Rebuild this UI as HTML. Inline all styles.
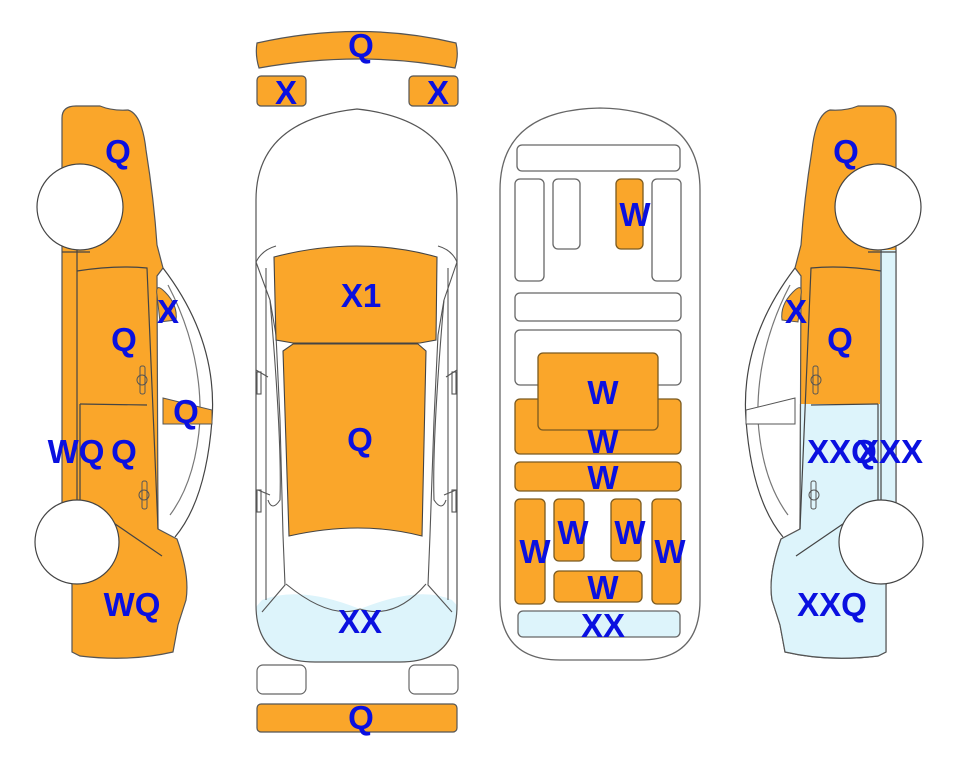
<!DOCTYPE html>
<html><head><meta charset="utf-8"><style>
html,body{margin:0;padding:0;background:#fff;width:963px;height:768px;overflow:hidden}
text{font-family:"Liberation Sans",sans-serif;font-weight:bold;font-size:33px;fill:#0a10e0;text-anchor:middle}
</style></head><body>
<svg width="963" height="768" viewBox="0 0 963 768" xmlns="http://www.w3.org/2000/svg">
<defs>
<path id="body" d="M62,118 Q62,106 76,106 L100,106 Q112,111 128,110 Q142,114 146,150 Q154,200 157,245 L163,268 L157,276 L158,529 L177,539 Q190,575 186,600 L178,625 L173,652 Q130,662 80,656 L72,652 L72,585 L62,505 Z"/>
<path id="mcar" d="M256,200 Q256,120 357,109 Q457,120 457,200 L457,605 Q457,662 400,662 L315,662 Q256,662 256,605 Z"/>
<clipPath id="mclip"><use href="#mcar"/></clipPath>
<g id="carlines" fill="none" stroke="#444" stroke-width="1.2">
<path d="M163,268 Q218,340 212,420 Q206,500 175,537"/>
<path d="M168,285 Q202,350 200,420 Q196,480 170,515" stroke="#777"/>
<path d="M77,271 Q115,265 147,268 L158,529"/>
<path d="M77,250 L77,505"/>
<path d="M80,404 L147,405"/>
<path d="M80,404 L80,500 L162,556"/>
<path d="M92,503 L92,540"/>
<path d="M62,505 L92,505"/>
<path d="M62,252 L90,252"/>
</g>
<clipPath id="bcm"><rect x="0" y="404" width="963" height="400"/><rect x="58" y="250" width="20" height="300"/></clipPath>
</defs>

<!-- LEFT CAR -->
<use href="#body" fill="#FAA62A" stroke="#555" stroke-width="1.2"/>
<use href="#carlines"/>
<path d="M157,295 Q155,282 165,292 Q178,305 176,320 L160,322 Z" fill="#FAA62A" stroke="#555"/>
<path d="M163,398 L212,410 L212,424 L163,424 Z" fill="#FAA62A" stroke="#555"/>
<g fill="none" stroke="#555"><rect x="140" y="366" width="5" height="28" rx="2"/><circle cx="142" cy="380" r="5"/><rect x="142" y="481" width="5" height="28" rx="2"/><circle cx="144" cy="495" r="5"/></g>
<circle cx="80" cy="207" r="43" fill="#fff" stroke="#444" stroke-width="1.2"/>
<circle cx="77" cy="542" r="42" fill="#fff" stroke="#444" stroke-width="1.2"/>

<!-- RIGHT CAR (mirrored) -->
<g transform="translate(958,0) scale(-1,1)">
<use href="#body" fill="#FAA62A" stroke="#555" stroke-width="1.2"/>
<use href="#body" fill="#DDF4FB" stroke="#555" stroke-width="1.2" clip-path="url(#bcm)"/>
<use href="#carlines"/>
<path d="M157,295 Q155,282 165,292 Q178,305 176,320 L160,322 Z" fill="#FAA62A" stroke="#555"/>
<path d="M163,398 L212,410 L212,424 L163,424 Z" fill="#fff" stroke="#555"/>
<g fill="none" stroke="#555"><rect x="140" y="366" width="5" height="28" rx="2"/><circle cx="142" cy="380" r="5"/><rect x="142" y="481" width="5" height="28" rx="2"/><circle cx="144" cy="495" r="5"/></g>
<circle cx="80" cy="207" r="43" fill="#fff" stroke="#444" stroke-width="1.2"/>
<circle cx="77" cy="542" r="42" fill="#fff" stroke="#444" stroke-width="1.2"/>
</g>

<!-- MIDDLE TOP VIEW -->
<path d="M257,43 Q360,20 456,43 Q459,55 455,68 Q360,50 259,68 Q255,55 257,43 Z" fill="#FAA62A" stroke="#555" stroke-width="1.2"/>
<rect x="257" y="76" width="49" height="30" rx="4" fill="#FAA62A" stroke="#555" stroke-width="1.2"/>
<rect x="409" y="76" width="49" height="30" rx="4" fill="#FAA62A" stroke="#555" stroke-width="1.2"/>
<rect x="257" y="665" width="49" height="29" rx="6" fill="#fff" stroke="#666" stroke-width="1.2"/>
<rect x="409" y="665" width="49" height="29" rx="6" fill="#fff" stroke="#666" stroke-width="1.2"/>
<rect x="257" y="704" width="200" height="28" rx="4" fill="#FAA62A" stroke="#555" stroke-width="1.2"/>

<use href="#mcar" fill="#fff"/>
<g clip-path="url(#mclip)">
<path d="M250,614 L262,600 Q300,585 360,609 Q420,585 452,600 L465,614 L465,680 L250,680 Z" fill="#DDF4FB"/>
</g>
<use href="#mcar" fill="none" stroke="#555" stroke-width="1.2"/>
<g fill="none" stroke="#555" stroke-width="1.1">
<path d="M256,262 Q262,250 276,246 M457,262 Q452,250 438,246"/>
<path d="M256,262 L270,300 L276,335 L280,420 L283,535 L285,585 L262,612"/>
<path d="M457,262 L444,300 L438,335 L434,420 L430,535 L428,585 L452,612"/>
<path d="M266,268 L266,600 M448,268 L448,600"/>
<path d="M270,300 Q282,440 280,500 Q272,512 268,500 M444,300 Q432,440 434,500 Q442,512 446,500"/>
<path d="M286,584 Q330,620 360,609 Q395,620 426,584"/>
<path d="M256,370 L268,377 M457,370 L446,377 M258,490 L270,495 M456,490 L444,495"/>
<rect x="257" y="372" width="4" height="22"/><rect x="452" y="372" width="4" height="22"/>
<rect x="257" y="490" width="4" height="22"/><rect x="452" y="490" width="4" height="22"/>
</g>
<path d="M274,257 Q358,235 437,257 L436,340 L420,343 L293,343 L276,340 Z" fill="#FAA62A" stroke="#444" stroke-width="1.1"/>
<path d="M283,351 L293,344 L418,344 L426,351 L422,536 Q360,520 289,536 Z" fill="#FAA62A" stroke="#444" stroke-width="1.1"/>

<!-- RIGHT STRUCTURE -->
<path d="M500,190 Q500,110 600,108 Q700,110 700,190 L700,600 Q700,660 640,660 L560,660 Q500,660 500,600 Z" fill="#fff" stroke="#666" stroke-width="1.3"/>
<g stroke="#666" stroke-width="1.3" fill="#fff">
<rect x="517" y="145" width="163" height="26" rx="5"/>
<rect x="515" y="179" width="29" height="102" rx="5"/>
<rect x="553" y="179" width="27" height="70" rx="5"/>
<rect x="652" y="179" width="29" height="102" rx="5"/>
<rect x="515" y="293" width="166" height="28" rx="5"/>
<rect x="515" y="330" width="166" height="55" rx="5"/>
</g>
<g stroke="#7a5a20" stroke-width="1.3" fill="#FAA62A">
<rect x="616" y="179" width="27" height="70" rx="5"/>
<rect x="515" y="399" width="166" height="55" rx="5"/>
<rect x="538" y="353" width="120" height="77" rx="5"/>
<rect x="515" y="462" width="166" height="29" rx="5"/>
<rect x="515" y="499" width="30" height="105" rx="5"/>
<rect x="554" y="499" width="30" height="62" rx="5"/>
<rect x="611" y="499" width="30" height="62" rx="5"/>
<rect x="652" y="499" width="29" height="105" rx="5"/>
<rect x="554" y="571" width="88" height="31" rx="5"/>
</g>
<rect x="518" y="611" width="162" height="26" rx="5" fill="#DDF4FB" stroke="#666" stroke-width="1.3"/>

<!-- LABELS -->
<text x="118" y="163">Q</text>
<text x="168" y="323">X</text>
<text x="124" y="351">Q</text>
<text x="186" y="423">Q</text>
<text x="76" y="463">WQ</text>
<text x="124" y="463">Q</text>
<text x="132" y="616">WQ</text>

<text x="361" y="57">Q</text>
<text x="286" y="104">X</text>
<text x="438" y="104">X</text>
<text x="361" y="307">X1</text>
<text x="360" y="451">Q</text>
<text x="360" y="633">XX</text>
<text x="361" y="729">Q</text>

<text x="635" y="226">W</text>
<text x="603" y="404">W</text>
<text x="603" y="453">W</text>
<text x="603" y="489">W</text>
<text x="573" y="544">W</text>
<text x="630" y="544">W</text>
<text x="535" y="563">W</text>
<text x="670" y="563">W</text>
<text x="603" y="599">W</text>
<text x="603" y="637">XX</text>

<text x="846" y="163">Q</text>
<text x="796" y="323">X</text>
<text x="840" y="351">Q</text>
<text x="842" y="463">XXQ</text>
<text x="890" y="463">XXX</text>
<text x="832" y="616">XXQ</text>
</svg>
</body></html>
